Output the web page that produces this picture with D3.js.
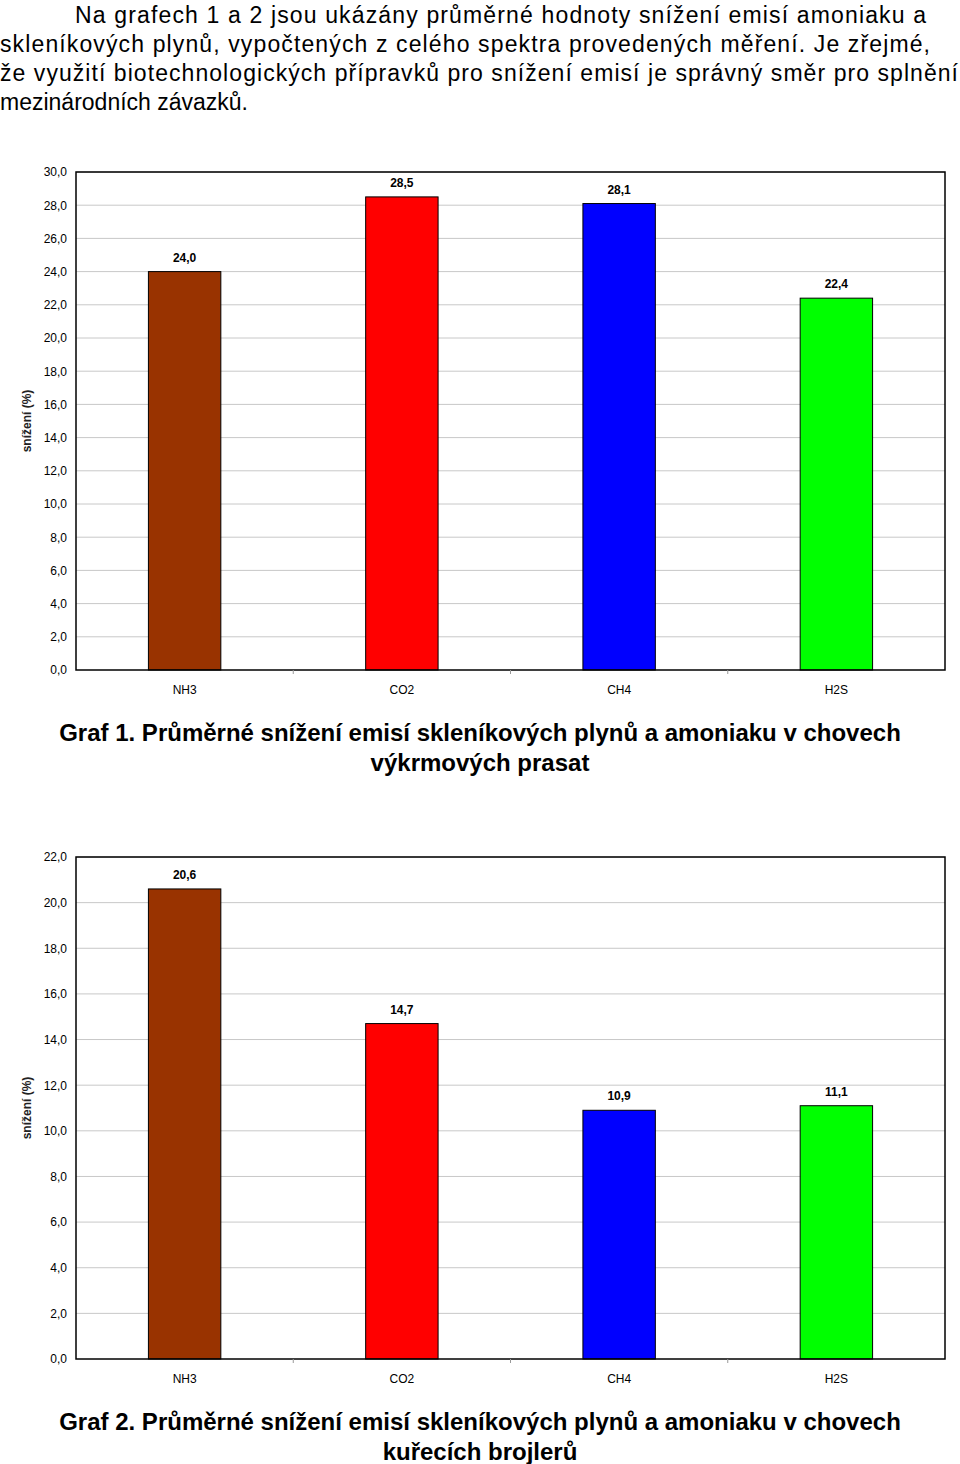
<!DOCTYPE html>
<html><head><meta charset="utf-8">
<script src="https://cdn.jsdelivr.net/npm/d3@7"></script>
<style>body{margin:0;background:#fff}svg{display:block;font-family:"Liberation Sans",Arial,sans-serif}</style>
</head><body>
<script>
const categories = ['NH3', 'CO2', 'CH4', 'H2S']
const colors = ['#993300', '#ff0000', '#0000ff', '#00ff00']
const pigValues = [24.0, 28.5, 28.1, 22.4]
const broilerValues = [20.6, 14.7, 10.9, 11.1]
const introLines = [
  'Na grafech 1 a 2 jsou ukázány průměrné hodnoty snížení emisí amoniaku a',
  'skleníkových plynů, vypočtených z celého spektra provedených měření. Je zřejmé,',
  'že využití biotechnologických přípravků pro snížení emisí je správný směr pro splnění',
  'mezinárodních závazků.',
]
const captions = [
  ['Graf 1. Průměrné snížení emisí skleníkových plynů a amoniaku v chovech', 'výkrmových prasat'],
  ['Graf 2. Průměrné snížení emisí skleníkových plynů a amoniaku v chovech', 'kuřecích brojlerů'],
]

const svg = d3.select('body').append('svg').attr('width', 960).attr('height', 1464)
const fmt = v => d3.format('.1f')(v).replace('.', ',')

// intro paragraph, justified lines
const lineSpans = [[75, 926], [0, 930], [0, 958], [0, null]]
introLines.forEach((t, i) => {
  const el = svg.append('text').attr('x', lineSpans[i][0]).attr('y', 23 + i * 29)
    .attr('font-size', 23).attr('fill', '#000').text(t)
  if (lineSpans[i][1]) el.attr('textLength', lineSpans[i][1] - lineSpans[i][0]).attr('lengthAdjust', 'spacing')
})

function drawChart (values, top, bottom, maxV, caption, captionY) {
  const left = 76, right = 945
  const x = d3.scaleBand().domain(categories).range([left, right])
  const y = d3.scaleLinear().domain([0, maxV]).range([bottom, top])
  const g = svg.append('g')
  const ticks = d3.range(0, maxV + 0.01, 2)

  g.selectAll('.grid').data(ticks.slice(1)).join('line')
    .attr('x1', left).attr('x2', right).attr('y1', y).attr('y2', y)
    .attr('stroke', '#c8c8c8').attr('stroke-width', 1)

  g.append('g').attr('transform', `translate(${left},0)`)
    .call(d3.axisLeft(y).tickValues(ticks).tickFormat(fmt).tickSize(0).tickPadding(9))
    .call(a => a.select('.domain').remove())
    .selectAll('text').attr('font-size', 12).attr('font-family', '"Liberation Sans",Arial,sans-serif')

  g.selectAll('.bar').data(values).join('rect')
    .attr('x', (d, i) => x(categories[i]) + x.bandwidth() / 3)
    .attr('width', x.bandwidth() / 3)
    .attr('y', d => y(d)).attr('height', d => bottom - y(d))
    .attr('fill', (d, i) => colors[i]).attr('stroke', '#000').attr('stroke-width', 1)

  g.selectAll('.lbl').data(values).join('text')
    .attr('x', (d, i) => x(categories[i]) + x.bandwidth() / 2)
    .attr('y', d => y(d) - 10).attr('text-anchor', 'middle')
    .attr('font-size', 12).attr('font-weight', 'bold').text(fmt)

  g.append('rect').attr('x', left).attr('y', top).attr('width', right - left).attr('height', bottom - top)
    .attr('fill', 'none').attr('stroke', '#000').attr('stroke-width', 1.5)

  g.append('g').attr('transform', `translate(0,${bottom})`)
    .call(d3.axisBottom(x).tickSize(0).tickPadding(15))
    .call(a => a.select('.domain').remove())
    .selectAll('text').attr('font-size', 12).attr('font-family', '"Liberation Sans",Arial,sans-serif')

  g.selectAll('.sep').data(categories.slice(1)).join('line')
    .attr('x1', d => x(d)).attr('x2', d => x(d)).attr('y1', bottom).attr('y2', bottom + 4)
    .attr('stroke', '#999')

  g.append('text').attr('transform', `translate(31,${(top + bottom) / 2}) rotate(-90)`)
    .attr('text-anchor', 'middle').attr('font-size', 12).attr('font-weight', 'bold').attr('fill', '#222')
    .text('snížení (%)')

  caption.forEach((t, i) => {
    svg.append('text').attr('x', 480).attr('y', captionY + i * 30).attr('text-anchor', 'middle')
      .attr('font-size', 24).attr('font-weight', 'bold').text(t)
  })
}

drawChart(pigValues, 172, 670, 30, captions[0], 741)
drawChart(broilerValues, 857, 1359, 22, captions[1], 1430)
</script>
</body></html>
